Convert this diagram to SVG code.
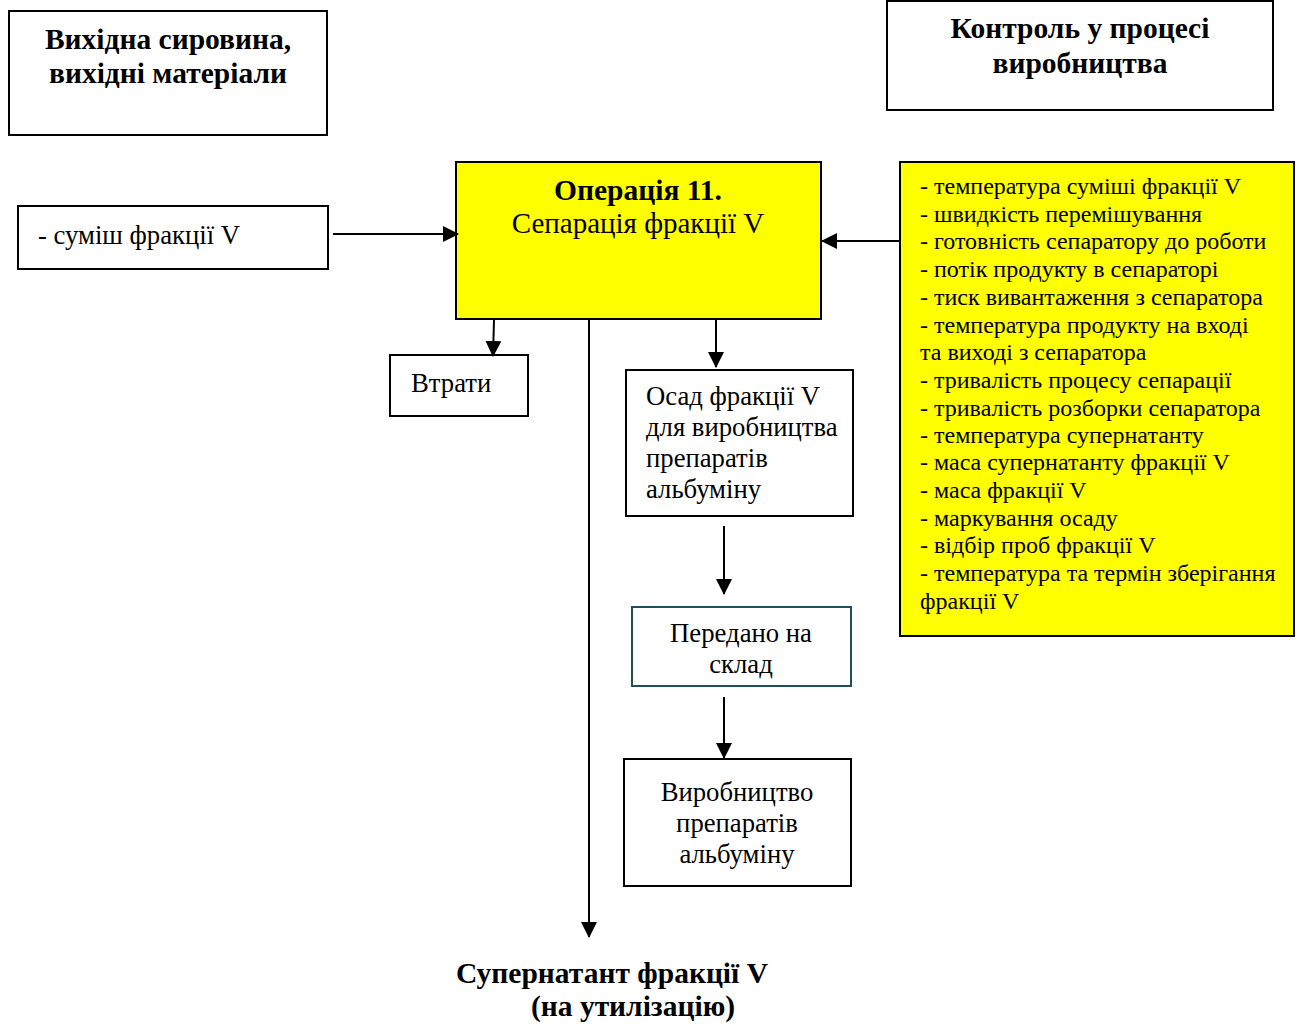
<svg xmlns="http://www.w3.org/2000/svg" width="1305" height="1026" viewBox="0 0 1305 1026">
  <style>
    .box { fill: #ffffff; stroke: #000000; stroke-width: 2; }
    .yel { fill: #ffff00; stroke: #000000; stroke-width: 2; }
    .teal { fill: #ffffff; stroke: #1f4e5f; stroke-width: 2; }
    text { font-family: "Liberation Serif", "Times New Roman", serif; fill: #000000; }
    .h { font-size: 29.5px; font-weight: bold; }
    .t { font-size: 26.7px; }
    .op { font-size: 29px; }
    .s { font-size: 24px; }
    .c { text-anchor: middle; }
    .conn line { stroke: #000000; stroke-width: 2; fill: none; }
  </style>
  <defs>
    <marker id="arrB" markerWidth="16" markerHeight="16" refX="15" refY="8" orient="auto" markerUnits="userSpaceOnUse">
      <path d="M0,0 L16,8 L0,16 z" fill="#000000"/>
    </marker>
  </defs>

  <g id="raw-materials">
    <rect class="box" x="9" y="11" width="318" height="124"/>
    <text class="h c" x="168" y="49">Вихідна сировина,</text>
    <text class="h c" x="168" y="83">вихідні матеріали</text>
  </g>

  <g id="process-control">
    <rect class="box" x="887" y="1" width="386" height="109"/>
    <text class="h c" x="1080" y="38">Контроль у процесі</text>
    <text class="h c" x="1080" y="73">виробництва</text>
  </g>

  <g id="input-mix">
    <rect class="box" x="18" y="206" width="310" height="63"/>
    <text class="t" x="38" y="244">- суміш фракції V</text>
  </g>

  <g id="operation-11">
    <rect class="yel" x="456" y="162" width="365" height="157"/>
    <text class="h c" x="638" y="200">Операція 11.</text>
    <text class="op c" x="638" y="233">Сепарація фракції V</text>
  </g>

  <g id="control-list">
    <rect class="yel" x="900" y="162" width="394" height="474"/>
    <text class="s" x="920" y="194">- температура суміші фракції V</text>
    <text class="s" x="920" y="222">- швидкість перемішування</text>
    <text class="s" x="920" y="249">- готовність сепаратору до роботи</text>
    <text class="s" x="920" y="277">- потік продукту в сепараторі</text>
    <text class="s" x="920" y="305">- тиск вивантаження з сепаратора</text>
    <text class="s" x="920" y="333">- температура продукту на вході</text>
    <text class="s" x="920" y="360">та виході з сепаратора</text>
    <text class="s" x="920" y="388">- тривалість процесу сепарації</text>
    <text class="s" x="920" y="416">- тривалість розборки сепаратора</text>
    <text class="s" x="920" y="443">- температура супернатанту</text>
    <text class="s" x="920" y="470">- маса супернатанту фракції V</text>
    <text class="s" x="920" y="498">- маса фракції V</text>
    <text class="s" x="920" y="526">- маркування осаду</text>
    <text class="s" x="920" y="553">- відбір проб фракції V</text>
    <text class="s" x="920" y="581">- температура та термін зберігання</text>
    <text class="s" x="920" y="609">фракції V</text>
  </g>

  <g id="losses">
    <rect class="box" x="390" y="355" width="138" height="61"/>
    <text class="t" x="411" y="392">Втрати</text>
  </g>

  <g id="sediment">
    <rect class="box" x="626" y="370" width="227" height="146"/>
    <text class="t" x="646" y="405">Осад фракції V</text>
    <text class="t" x="646" y="436">для виробництва</text>
    <text class="t" x="646" y="467">препаратів</text>
    <text class="t" x="646" y="498">альбуміну</text>
  </g>

  <g id="warehouse">
    <rect class="teal" x="632" y="607" width="219" height="79"/>
    <text class="t c" x="741" y="642">Передано на</text>
    <text class="t c" x="741" y="673">склад</text>
  </g>

  <g id="albumin-production">
    <rect class="box" x="624" y="759" width="227" height="127"/>
    <text class="t c" x="737" y="801">Виробництво</text>
    <text class="t c" x="737" y="832">препаратів</text>
    <text class="t c" x="737" y="863">альбуміну</text>
  </g>

  <g id="supernatant">
    <text class="h c" x="612" y="983">Супернатант фракції V</text>
    <text class="h c" x="633" y="1016">(на утилізацію)</text>
  </g>

  <g id="connectors" class="conn">
    <line x1="333" y1="234" x2="458" y2="234" marker-end="url(#arrB)"/>
    <line x1="900" y1="241" x2="822" y2="241" marker-end="url(#arrB)"/>
    <line x1="494" y1="320" x2="493" y2="356" marker-end="url(#arrB)"/>
    <line x1="589" y1="320" x2="589" y2="937" marker-end="url(#arrB)"/>
    <line x1="716" y1="320" x2="716" y2="367" marker-end="url(#arrB)"/>
    <line x1="724" y1="526" x2="724" y2="594" marker-end="url(#arrB)"/>
    <line x1="724" y1="697" x2="724" y2="758" marker-end="url(#arrB)"/>
  </g>
</svg>
